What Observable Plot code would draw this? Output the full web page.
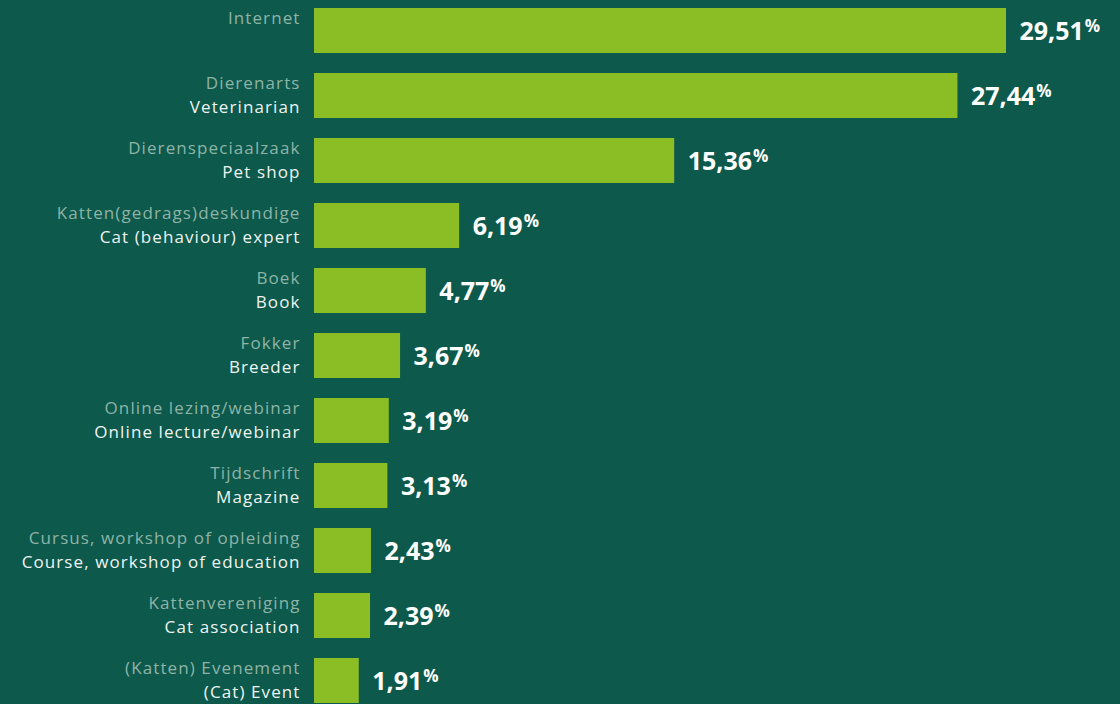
<!DOCTYPE html>
<html>
<head>
<meta charset="utf-8">
<script src="https://cdn.jsdelivr.net/npm/d3@7"></script>
<script src="https://cdn.jsdelivr.net/npm/@observablehq/plot@0.6"></script>
<style>
  html, body { margin: 0; padding: 0; background: #0d594b; overflow: hidden; }
  #chart svg { display: block; }
</style>
</head>
<body>
<div id="chart"></div>
<script>
const categoriesNL = ["Internet","Dierenarts","Dierenspeciaalzaak","Katten(gedrags)deskundige","Boek","Fokker","Online lezing/webinar","Tijdschrift","Cursus, workshop of opleiding","Kattenvereniging","(Katten) Evenement"];
const categoriesEN = ["","Veterinarian","Pet shop","Cat (behaviour) expert","Book","Breeder","Online lecture/webinar","Magazine","Course, workshop of education","Cat association","(Cat) Event"];
const values = [29.51,27.44,15.36,6.19,4.77,3.67,3.19,3.13,2.43,2.39,1.91];

const data = categoriesNL.map((nl, i) => ({nl, en: categoriesEN[i], value: values[i]}));
const fmt = v => v.toFixed(2).replace(".", ",");

const chart = Plot.plot({
  width: 1120,
  height: 704,
  marginLeft: 314,
  marginRight: 0,
  marginTop: 8,
  marginBottom: 1,
  x: {domain: [0, 806 / 23.45], axis: null},
  y: {domain: categoriesNL, axis: null, paddingInner: 0.3077, paddingOuter: 0, round: false},
  style: {background: "#0d594b", fontFamily: "'Open Sans', sans-serif", overflow: "visible"},
  marks: [
    Plot.barX(data, {y: "nl", x: "value", fill: "#8bbd25"}),
    Plot.text(data, {y: "nl", text: "nl", frameAnchor: "left", textAnchor: "end", dx: -14, dy: -12, fill: "#8db4a7", fontSize: 17}),
    Plot.text(data, {y: "nl", text: "en", frameAnchor: "left", textAnchor: "end", dx: -14, dy: 11.5, fill: "#eef4f2", fontSize: 17}),
    Plot.text(data, {y: "nl", x: "value", text: d => fmt(d.value), textAnchor: "start", dx: 13, dy: 1, fill: "#ffffff", fontSize: 25, fontWeight: "bold"})
  ]
});

const textGroups = chart.querySelectorAll("g[aria-label='text']");
textGroups[0].setAttribute("letter-spacing", "1.1");
textGroups[1].setAttribute("letter-spacing", "1.1");
const valueGroup = textGroups[textGroups.length - 1];
d3.select(valueGroup).selectAll("text").each(function() {
  d3.select(this).append("tspan")
    .attr("font-size", 17)
    .attr("dx", 1)
    .attr("dy", -8)
    .text("%");
});

document.getElementById("chart").appendChild(chart);
</script>
</body>
</html>
